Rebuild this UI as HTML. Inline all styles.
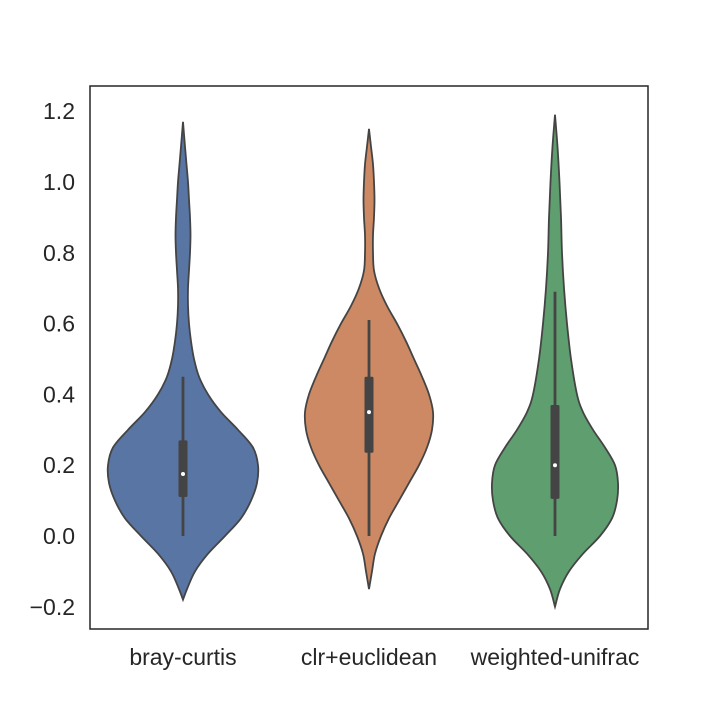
<!DOCTYPE html>
<html><head><meta charset="utf-8"><style>
body{margin:0;background:#fff}
svg{display:block}
text{font-family:"Liberation Sans",Arial,sans-serif;fill:#262626}
</style></head><body>
<svg id="chart" width="720" height="720" viewBox="0 0 720 720">
<rect x="0" y="0" width="720" height="720" fill="#fff"/>
<g id="violins"></g>
<g id="yticks"></g>
<g id="xticks"></g>
<rect x="90" y="86" width="558" height="543" fill="none" stroke="#262626" stroke-width="1.5"/>
</svg>
<script>
const categories = ["bray-curtis","clr+euclidean","weighted-unifrac"];
const colors = ["#5875a4","#cc8963","#5f9e6e"];
const yTicks = [-0.2,0.0,0.2,0.4,0.6,0.8,1.0,1.2];
const yTickLabels = ["\u22120.2","0.0","0.2","0.4","0.6","0.8","1.0","1.2"];
const brayVals = [-0.18,-0.15,-0.1,-0.05,0.0,0.05,0.1,0.15,0.2,0.25,0.3,0.35,0.4,0.45,0.5,0.55,0.6,0.65,0.7,0.75,0.8,0.85,0.9,0.95,1.0,1.05,1.1,1.17];
const brayDens = [0,4,12,25,42,58,68,74,75,70,55,38,25,16,11,8,6,5,5,6,7,7.5,7,6,5,3.5,2,0];
const clrVals = [-0.15,-0.1,-0.05,0.0,0.05,0.1,0.15,0.2,0.25,0.3,0.35,0.4,0.45,0.5,0.55,0.6,0.65,0.7,0.75,0.8,0.85,0.9,0.95,1.0,1.05,1.1,1.15];
const clrDens = [0,3,6,12,20,30,40,50,58,63,64,60,53,45,37,28,18,10,5,4,4,5,5.5,5,4,2,0];
const wuVals = [-0.2,-0.15,-0.1,-0.05,0.0,0.05,0.1,0.15,0.2,0.25,0.3,0.35,0.4,0.5,0.6,0.7,0.8,0.9,1.0,1.1,1.19];
const wuDens = [0,5,14,28,45,57,62,63,60,50,38,28,22,16,12,9,7,6,4.5,2.5,0];
const whiskerLow = [0,0,0];
const whiskerHigh = [0.45,0.61,0.69];
const q1 = [0.11,0.235,0.105];
const q3 = [0.27,0.45,0.37];
const medians = [0.175,0.35,0.2];

const profiles = [[brayVals,brayDens],[clrVals,clrDens],[wuVals,wuDens]];
const NS = "http://www.w3.org/2000/svg";
const plotTop=86, plotBottom=629, plotLeft=90, plotRight=648;
function y(v){ return 536 - v*354; }
function xc(i){ return plotLeft + (plotRight-plotLeft)*(i+0.5)/categories.length; }
function w(d){ return d; }
function mk(tag, attrs, parent){ const e=document.createElementNS(NS,tag); for(const k in attrs) e.setAttribute(k,attrs[k]); parent.appendChild(e); return e; }
function smooth(pts){
  let d="M"+pts[0][0]+","+pts[0][1];
  for(let i=0;i<pts.length-1;i++){
    const p0=pts[Math.max(0,i-1)],p1=pts[i],p2=pts[i+1],p3=pts[Math.min(pts.length-1,i+2)];
    const c1=[p1[0]+(p2[0]-p0[0])/6,p1[1]+(p2[1]-p0[1])/6];
    const c2=[p2[0]-(p3[0]-p1[0])/6,p2[1]-(p3[1]-p1[1])/6];
    d+=" C"+c1[0]+","+c1[1]+" "+c2[0]+","+c2[1]+" "+p2[0]+","+p2[1];
  }
  return d;
}
const gV=document.getElementById("violins");
categories.forEach((c,i)=>{
  const [vals,dens]=profiles[i]; const cx=xc(i);
  const right=vals.map((v,k)=>[cx+w(dens[k]),y(v)]);
  const left=vals.map((v,k)=>[cx-w(dens[k]),y(v)]).reverse();
  const pr=smooth(right), pl=smooth(left);
  const d=pr+" L"+left[0][0]+","+left[0][1]+pl.replace(/^M[^C]*/," ")+" Z";
  const p=mk("path",{d:d,fill:colors[i],stroke:"#444","stroke-width":1.8},gV);
  
  
  const wl=mk("line",{x1:cx,x2:cx,y1:y(whiskerLow[i]),y2:y(whiskerHigh[i]),stroke:"#444","stroke-width":2.8},gV);
  
  
  const bx=mk("rect",{x:cx-4.5,y:y(q3[i]),width:9,height:y(q1[i])-y(q3[i]),fill:"#444",rx:1.5},gV);
  
  
  const md=mk("circle",{cx:cx,cy:y(medians[i]),r:2,fill:"#fff"},gV);
  
  
});
const gY=document.getElementById("yticks");
yTicks.forEach((v,k)=>{
  const t=mk("text",{x:75,y:y(v)+8,"text-anchor":"end","font-size":23},gY);
  t.textContent=yTickLabels[k];
  
  
});
const gX=document.getElementById("xticks");
categories.forEach((c,i)=>{
  const t=mk("text",{x:xc(i),y:665,"text-anchor":"middle","font-size":23},gX);
  t.textContent=c;
  
  
});
</script>
</body></html>
